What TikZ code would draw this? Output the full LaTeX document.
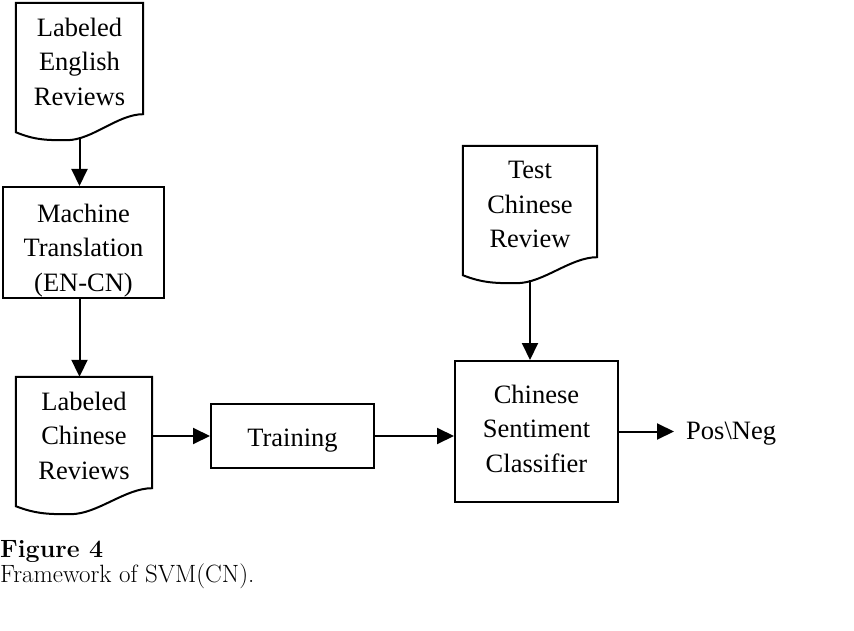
\documentclass[tikz,border=0pt]{standalone}
\usepackage{fontspec}
\newfontfamily\diagfont{Liberation Serif}
\usepackage{tikz}
\usetikzlibrary{arrows.meta}
\usetikzlibrary{calc}

\tikzset{
  txt/.style={font=\diagfont\fontsize{26.5}{34.5}\selectfont, align=center, inner sep=0pt},
  box/.style={txt, draw, line width=2pt},
  docnode/.style={txt, minimum width=#1, minimum height=117pt},
  flow/.style={line width=2pt, -{Triangle[length=17pt,width=16pt]}},
}
% document outline round a docnode, with a coordinate <name>-tail on the wave
\newcommand{\docoutline}[1]{%
  \draw[line width=2pt] let \p1=(#1.north west), \p2=(#1.south east), \n1={\x2-\x1} in
    (\p1) -- (\x1,\y2-12pt)
    .. controls +(0.15*\n1,-8pt) and +(-0.15*\n1,0pt) .. (\x1+0.4*\n1,\y2-20pt)
    .. controls +(0.2*\n1,0pt) and +(-0.2*\n1,0pt) .. (\x2,\y2+6pt)
    -- (\x2,\y1) -- cycle;
  \coordinate (#1-tail) at ($(#1.south)+(0,-17pt)$);
}

\begin{document}
\begin{tikzpicture}[x=1pt,y=1pt]
\useasboundingbox (0,0) rectangle (854,-631);

% inputs and steps
\node[docnode=127pt] (english) at (79.5,-61.5) {Labeled\\English\\Reviews};
\node[box, minimum width=161pt, minimum height=111pt] (mt) at (83.5,-242.5) {\rule{0pt}{34pt}Machine\\Translation\\(EN-CN)};
\node[docnode=136pt] (chinese) at (84,-435.5) {Labeled\\Chinese\\Reviews};
\node[box, minimum width=163pt, minimum height=64pt] (train) at (292.5,-436) {\rule{0pt}{26pt}Training};
\node[docnode=134pt] (test) at (530,-204.5) {Test\\Chinese\\Review};
\node[box, minimum width=163pt, minimum height=141pt] (cls) at (536.5,-431.5) {Chinese\\Sentiment\\Classifier\rule[-6pt]{0pt}{6pt}};
\node[txt, inner xsep=12pt, anchor=west] (out) at (674,-434) {Pos\textbackslash Neg};

\docoutline{english}
\docoutline{chinese}
\docoutline{test}

% connectors
\draw[flow] (english-tail) -- (english-tail |- mt.north);
\draw[flow] (mt.south -| english-tail) -- (chinese.north -| english-tail);
\draw[flow] (chinese.east |- train.west) -- (train.west);
\draw[flow] (train.east) -- (train.east -| cls.west);
\draw[flow] (test-tail) -- (test-tail |- cls.north);
\draw[flow] (cls.east) -- (cls.east -| out.west);

% caption
\node[anchor=base west, inner sep=0pt, font=\fontsize{25}{29}\selectfont\bfseries] (fig) at (0,-557) {Figure 4};
\node[anchor=base west, inner sep=0pt, font=\fontsize{25}{29}\selectfont] (cap) at (0,-582) {Framework of SVM(CN).};
\end{tikzpicture}
\end{document}
